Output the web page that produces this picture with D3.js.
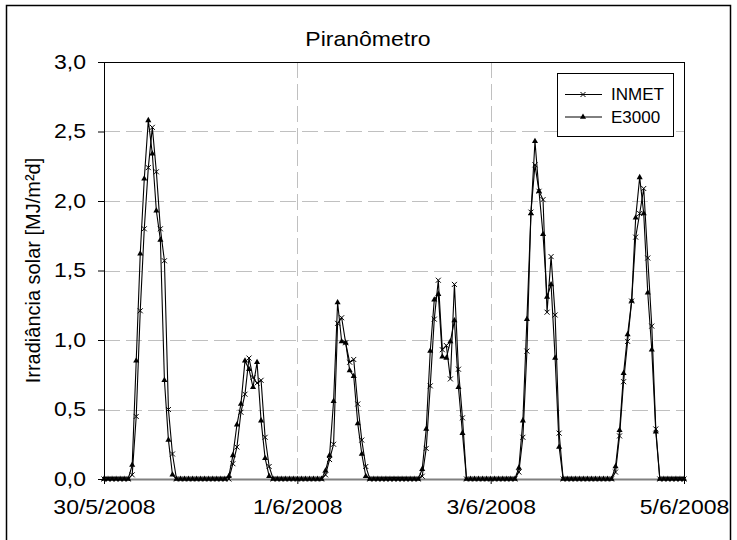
<!DOCTYPE html>
<html>
<head>
<meta charset="utf-8">
<script src="https://cdn.jsdelivr.net/npm/d3@7"></script>
<style>
  body { margin: 0; background: #fff; }
  text { font-family: "Liberation Sans", Arial, sans-serif; fill: #000; }
</style>
</head>
<body>
<div id="wrapper"></div>
<script>
// days shown (one bump per day), readings are hourly
const days = ["2008-05-30", "2008-05-31", "2008-06-01", "2008-06-02", "2008-06-03", "2008-06-04"];
const endDay = "2008-06-05";
// hours of the day with non-zero irradiance; all other hours read 0,0
const sunHours = [7, 8, 9, 10, 11, 12, 13, 14, 15, 16, 17];

const inmetValues = [
  [0.03, 0.45, 1.21, 1.80, 2.24, 2.53, 2.21, 1.80, 1.57, 0.50, 0.18],
  [0.00, 0.11, 0.23, 0.48, 0.61, 0.87, 0.73, 0.69, 0.71, 0.30, 0.09],
  [0.03, 0.14, 0.25, 1.12, 1.16, 0.98, 0.84, 0.86, 0.54, 0.28, 0.09],
  [0.02, 0.22, 0.67, 1.15, 1.43, 0.93, 0.96, 0.72, 1.40, 0.79, 0.44],
  [0.05, 0.30, 0.92, 1.92, 2.26, 2.07, 2.01, 1.20, 1.60, 1.18, 0.33],
  [0.05, 0.31, 0.70, 0.99, 1.28, 1.74, 1.91, 2.09, 1.59, 1.10, 0.36],
];
const e3000Values = [
  [0.10, 0.85, 1.62, 2.16, 2.58, 2.34, 1.93, 1.72, 0.71, 0.28, 0.03],
  [0.02, 0.17, 0.39, 0.54, 0.85, 0.79, 0.66, 0.84, 0.42, 0.15, 0.02],
  [0.06, 0.17, 0.56, 1.27, 0.99, 0.98, 0.78, 0.74, 0.40, 0.18, 0.02],
  [0.07, 0.36, 0.92, 1.29, 1.33, 0.88, 0.87, 0.99, 1.14, 0.66, 0.33],
  [0.08, 0.42, 1.15, 1.91, 2.43, 2.07, 1.76, 1.31, 1.40, 0.87, 0.23],
  [0.09, 0.35, 0.76, 1.04, 1.28, 1.88, 2.17, 1.91, 1.34, 0.93, 0.34],
];

const yTicks = [0, 0.5, 1, 1.5, 2, 2.5, 3];
const xTickDates = ["2008-05-30", "2008-06-01", "2008-06-03", "2008-06-05"];
const seriesNames = ["INMET", "E3000"];

const parseDay = d3.timeParse("%Y-%m-%d");
const STRETCH = 1.15; // the original text is drawn a bit wide

function buildSeries(values) {
  const out = [];
  days.forEach((day, i) => {
    const start = parseDay(day);
    for (let h = 0; h < 24; h++) {
      const k = sunHours.indexOf(h);
      out.push({ date: d3.timeHour.offset(start, h), value: k < 0 ? 0 : values[i][k] });
    }
  });
  out.push({ date: parseDay(endDay), value: 0 });
  return out;
}

function stretchText(selection) {
  selection.each(function () {
    const t = d3.select(this);
    const x = +t.attr("x") || 0;
    t.attr("x", x / STRETCH).attr("transform", `scale(${STRETCH},1)`);
  });
}

function drawChart() {
  const inmet = buildSeries(inmetValues);
  const e3000 = buildSeries(e3000Values);

  let dimensions = {
    width: 737,
    height: 540,
    margin: { top: 62, bottom: 61, left: 104, right: 53 },
  };
  dimensions.boundedWidth = dimensions.width - dimensions.margin.left - dimensions.margin.right;
  dimensions.boundedHeight = dimensions.height - dimensions.margin.top - dimensions.margin.bottom;

  const wrapper = d3.select("#wrapper")
    .append("svg")
    .attr("width", dimensions.width)
    .attr("height", dimensions.height);

  // chart frame
  wrapper.append("rect")
    .attr("x", 6.5).attr("y", 5.5)
    .attr("width", 724).attr("height", 545)
    .attr("fill", "none").attr("stroke", "#000").attr("stroke-width", 1.5);

  const bounds = wrapper.append("g")
    .attr("transform", `translate(${dimensions.margin.left},${dimensions.margin.top})`);

  const xScale = d3.scaleTime()
    .domain([parseDay(days[0]), parseDay(endDay)])
    .range([0, dimensions.boundedWidth]);

  const yScale = d3.scaleLinear()
    .domain([0, 3])
    .range([dimensions.boundedHeight, 0]);

  // gridlines
  const grid = bounds.append("g")
    .attr("stroke", "#c0c0c0").attr("stroke-width", 1).attr("stroke-dasharray", "16,6");
  grid.selectAll(".hgrid")
    .data(yTicks.filter((d) => d > 0 && d < 3))
    .join("line")
    .attr("x1", 0).attr("x2", dimensions.boundedWidth)
    .attr("y1", (d) => Math.round(yScale(d)) + 0.5)
    .attr("y2", (d) => Math.round(yScale(d)) + 0.5);
  grid.selectAll(".vgrid")
    .data(xTickDates.slice(1, -1).map(parseDay))
    .join("line")
    .attr("y1", 0).attr("y2", dimensions.boundedHeight)
    .attr("x1", (d) => Math.round(xScale(d)) + 0.5)
    .attr("x2", (d) => Math.round(xScale(d)) + 0.5);

  // plot border
  bounds.append("rect")
    .attr("x", 0.5).attr("y", 0.5)
    .attr("width", dimensions.boundedWidth).attr("height", dimensions.boundedHeight)
    .attr("fill", "none").attr("stroke", "#000");

  // axes
  const fmt = (d) => d3.format(".1f")(d).replace(".", ",");
  const yAxis = bounds.append("g")
    .call(d3.axisLeft(yScale).tickValues(yTicks).tickFormat(fmt).tickSize(6).tickPadding(12));
  yAxis.select(".domain").attr("stroke", "#000");
  yAxis.selectAll("text").style("font-size", "20px").call(stretchText);

  const xAxis = bounds.append("g")
    .attr("transform", `translate(0,${dimensions.boundedHeight})`)
    .call(d3.axisBottom(xScale)
      .tickValues(xTickDates.map(parseDay))
      .tickFormat(d3.timeFormat("%-d/%-m/%Y"))
      .tickSize(5).tickSizeOuter(0).tickPadding(16));
  xAxis.select(".domain").attr("stroke", "#808080").attr("stroke-width", 2);
  xAxis.selectAll("text").style("font-size", "20px").call(stretchText);

  // lines
  const lineGenerator = d3.line()
    .x((d) => xScale(d.date))
    .y((d) => yScale(d.value));

  const dataGroup = bounds.append("g");
  [inmet, e3000].forEach((series) => {
    dataGroup.append("path")
      .datum(series)
      .attr("d", lineGenerator)
      .attr("fill", "none")
      .attr("stroke", "#000")
      .attr("stroke-width", 1.1);
  });

  const cross = "M-2.5,-2.5L2.5,2.5M-2.5,2.5L2.5,-2.5";
  const tri = d3.symbol(d3.symbolTriangle).size(16)();

  dataGroup.selectAll(".inmet")
    .data(inmet)
    .join("path")
    .attr("class", "inmet")
    .attr("transform", (d) => `translate(${xScale(d.date)},${yScale(d.value)})`)
    .attr("d", cross)
    .attr("stroke", "#000").attr("stroke-width", 1).attr("fill", "none");

  dataGroup.selectAll(".e3000")
    .data(e3000)
    .join("path")
    .attr("class", "e3000")
    .attr("transform", (d) => `translate(${xScale(d.date)},${yScale(d.value)})`)
    .attr("d", tri)
    .attr("fill", "#000");

  // title and axis label
  wrapper.append("text")
    .attr("x", 368)
    .attr("y", 46)
    .attr("text-anchor", "middle")
    .style("font-size", "20px")
    .text("Piranômetro")
    .call(stretchText);

  wrapper.append("text")
    .attr("transform", `translate(40,${dimensions.margin.top + dimensions.boundedHeight / 2}) rotate(-90)`)
    .attr("text-anchor", "middle")
    .style("font-size", "20px")
    .text("Irradiância solar [MJ/m²d]");

  // legend
  const legend = wrapper.append("g").attr("transform", "translate(557,73)");
  legend.append("rect")
    .attr("x", 0.5).attr("y", 0.5).attr("width", 116).attr("height", 63)
    .attr("fill", "#fff").attr("stroke", "#000");
  const items = legend.selectAll(".item")
    .data(seriesNames)
    .join("g")
    .attr("transform", (d, i) => `translate(0,${21.5 + i * 22.5})`);
  items.append("line")
    .attr("x1", 8).attr("x2", 45)
    .attr("stroke", "#000");
  items.append("path")
    .attr("transform", "translate(26,0)")
    .attr("d", (d, i) => (i == 0 ? cross : tri))
    .attr("stroke", (d, i) => (i == 0 ? "#000" : "none"))
    .attr("fill", (d, i) => (i == 0 ? "none" : "#000"));
  items.append("text")
    .attr("x", 54)
    .attr("dy", "0.35em")
    .style("font-size", "17px")
    .text((d) => d);
}

drawChart();
</script>
</body>
</html>
